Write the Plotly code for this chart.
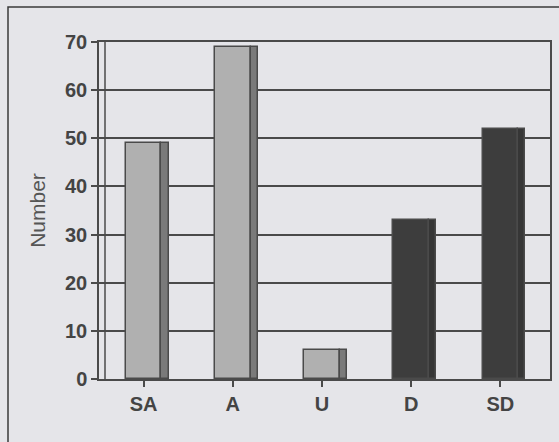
import plotly.graph_objects as go

categories = ["SA", "A", "U", "D", "SD"]
values = [49, 69, 6, 33, 52]
face_colors = ["#b0b0b0", "#b0b0b0", "#b0b0b0", "#3d3d3d", "#3d3d3d"]
side_colors = ["#7a7a7a", "#7a7a7a", "#7a7a7a", "#363636", "#363636"]
y_ticks = [0, 10, 20, 30, 40, 50, 60, 70]

W, H = 559, 442
L, R, T, B = 99, 550, 42, 379  # plot area in pixels
pw, ph = R - L, B - T

bg = "#e5e5e9"
ink = "#4a4a4a"
txt = "#444444"

x = list(range(len(categories)))

fig = go.Figure()
# front face of each column
fig.add_trace(go.Bar(
    x=x, y=values, width=0.40, offset=-0.20,
    marker=dict(color=face_colors, line=dict(color=ink, width=1.5)),
    hoverinfo="skip", showlegend=False,
))
# side face (3D effect)
fig.add_trace(go.Bar(
    x=x, y=values, width=0.08, offset=0.20,
    marker=dict(color=side_colors, line=dict(color=ink, width=1.5)),
    hoverinfo="skip", showlegend=False,
))

fig.update_layout(
    width=W, height=H,
    margin=dict(l=L, r=W - R, t=T, b=H - B, pad=0),
    paper_bgcolor=bg, plot_bgcolor=bg,
    barmode="overlay", bargap=0,
    font=dict(family="Liberation Sans, Arial, sans-serif", color=txt),
    xaxis=dict(
        tickmode="array", tickvals=x, ticktext=categories,
        range=[-0.5, 4.5 + 5 / 89], automargin=False,
        showgrid=False, zeroline=False,
        showline=True, linecolor=ink, linewidth=1.5, mirror=True,
        ticks="outside", ticklen=6, tickwidth=1.5, tickcolor=ink,
        tickfont=dict(size=20, weight="bold", color=txt),
        fixedrange=True,
    ),
    yaxis=dict(
        range=[0, 70], tickmode="array", tickvals=y_ticks, automargin=False,
        showgrid=True, gridcolor=ink, gridwidth=1.5, zeroline=False,
        showline=True, linecolor=ink, linewidth=1.5, mirror=True,
        ticks="outside", ticklen=6, tickwidth=1.5, tickcolor=ink,
        tickfont=dict(size=20, weight="bold", color=txt),
        title=dict(text="Number", font=dict(size=21, color="#555555"), standoff=14),
        fixedrange=True,
    ),
    shapes=[
        # inner back-wall edge
        dict(type="line", xref="paper", yref="paper",
             x0=(105 - L) / pw, x1=(105 - L) / pw, y0=0, y1=1,
             line=dict(color=ink, width=1.5)),
        # outer chart frame
        dict(type="rect", xref="paper", yref="paper",
             x0=(8 - L) / pw, x1=(575 - L) / pw,
             y0=(B - 460) / ph, y1=(B - 7) / ph,
             line=dict(color="#3a3a3a", width=1.5), layer="below"),
    ],
)

fig.write_html(
    "out.html",
    config={"displayModeBar": False},
    post_script="document.body.style.margin='0';document.body.style.background='%s';" % bg,
)
